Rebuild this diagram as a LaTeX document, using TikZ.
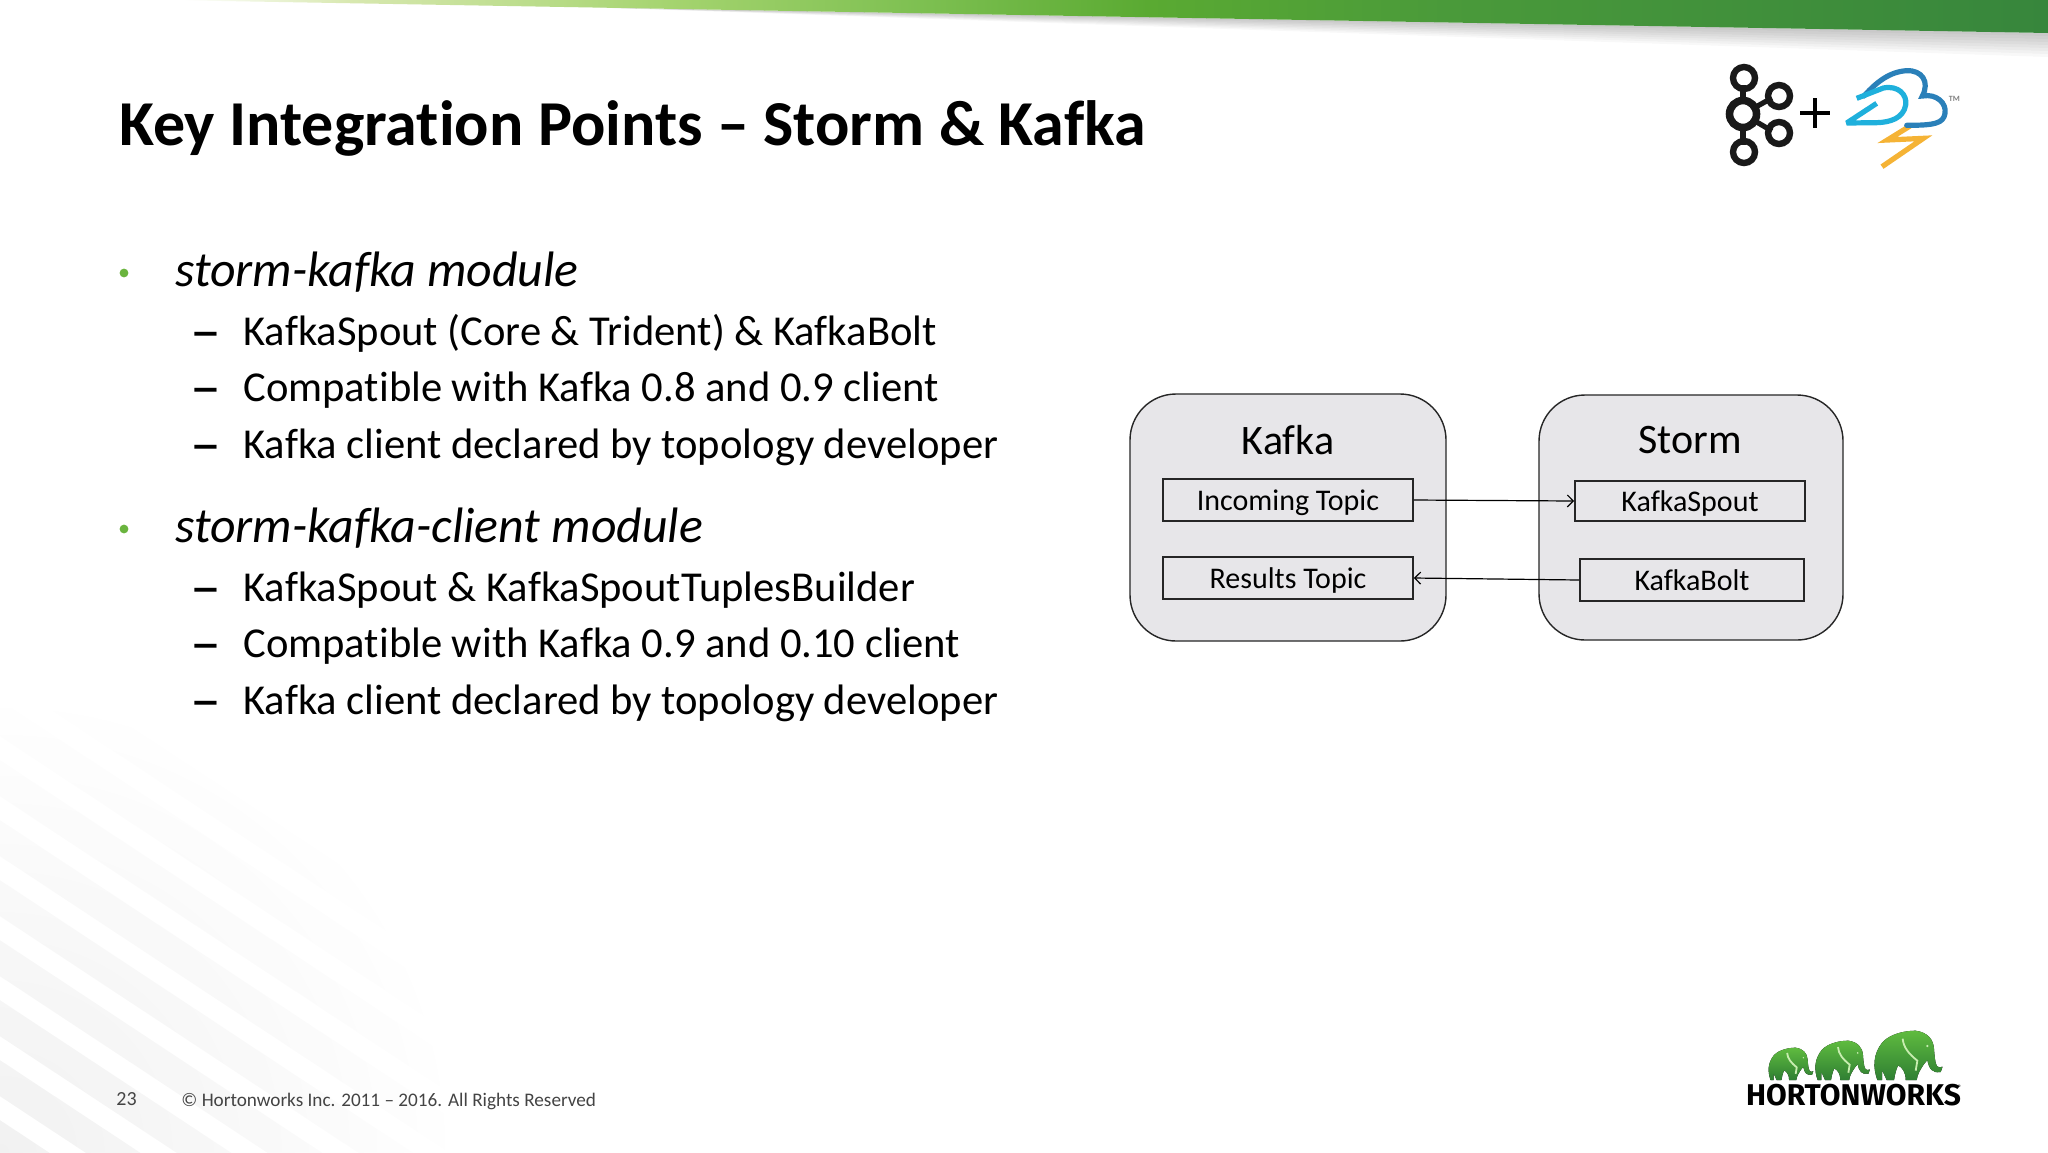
\documentclass[tikz,border=0pt]{standalone}
\usepackage{fontspec}
\setmainfont[Ligatures=NoCommon]{Carlito}
\newfontfamily\logofont{Fira Sans}
\usetikzlibrary{arrows.meta,fadings,shapes.geometric}
\definecolor{boxgray}{HTML}{E7E6E9}
\definecolor{bulletgreen}{HTML}{6AB43E}
\definecolor{footgray}{HTML}{444444}
\definecolor{stormdark}{HTML}{2A80B9}
\definecolor{stormlight}{HTML}{1FB0DC}
\definecolor{stormbolt}{HTML}{F5B335}
\definecolor{elephanttop}{HTML}{5FBB3F}
\definecolor{elephantbot}{HTML}{2F7F33}
\definecolor{elephantline}{HTML}{C8EDB0}
\pgfdeclarehorizontalshading{topbar}{100bp}{
 color(0bp)=(white); color(25.5bp)=(white);
 color(29.9bp)=({rgb,255:red,216;green,232;blue,176});
 color(38.4bp)=({rgb,255:red,165;green,212;blue,111});
 color(45.3bp)=({rgb,255:red,124;green,191;blue,80});
 color(51.1bp)=({rgb,255:red,90;green,170;blue,50});
 color(59bp)=({rgb,255:red,74;green,154;blue,58});
 color(75bp)=({rgb,255:red,55;green,134;blue,60});
 color(100bp)=({rgb,255:red,55;green,134;blue,60})}
\tikzfading[name=cornerfade,inner color=transparent!87,outer color=transparent!100]
\tikzset{
 x=0.5pt,y=-0.5pt,
 titletext/.style={anchor=base west,inner sep=0pt,font=\fontsize{32}{37}\selectfont\bfseries,text=black},
 headtext/.style={anchor=base west,inner sep=0pt,font=\fontsize{24.9}{29}\selectfont\itshape,text=black},
 subtext/.style={anchor=base west,inner sep=0pt,font=\fontsize{21.3}{25}\selectfont,text=black},
 dashtext/.style={anchor=base,inner sep=0pt,font=\fontsize{31}{33}\selectfont,text=black},
 foottext/.style={anchor=base west,inner sep=0pt,font=\fontsize{9.6}{11}\selectfont,text=footgray},
 bulletdot/.style={circle,fill=bulletgreen,inner sep=0pt,minimum size=4.4pt},
 groupbox/.style={draw=black!85,line width=0.7pt,fill=boxgray,rounded corners=23pt},
 groupname/.style={anchor=center,inner sep=0pt,font=\fontsize{21}{25}\selectfont},
 topicbox/.style={draw=black!85,line width=0.85pt,inner sep=0pt,font=\fontsize{15}{18}\selectfont,anchor=center,text height=13pt,text depth=2.5pt},
 flow/.style={draw=black,line width=0.6pt,-{Straight Barb[length=3pt,width=6pt]}},
 ring/.style={draw=black!90,line width=3.2pt},
 spoke/.style={draw=black!90,line width=2.6pt},
 elephantpic/.pic={
  \fill[top color=elephanttop,bottom color=elephantbot]
   (10,148) .. controls (-4,110) and (-3,70) .. (25,35)
   .. controls (50,8) and (95,0) .. (125,0)
   .. controls (160,5) and (178,25) .. (180,55)
   .. controls (182,85) and (185,112) .. (196,110)
   -- (206,108) -- (200,124)
   .. controls (175,128) and (165,115) .. (160,88)
   -- (150,100) .. controls (140,115) and (130,130) .. (128,148)
   -- (95,148) .. controls (95,125) and (85,110) .. (72,104)
   .. controls (65,120) and (62,135) .. (60,148)
   -- (38,148) -- (24,118) -- (24,148) -- cycle;
  \draw[elephantline,line width=0.9pt]
   (86,24) .. controls (88,50) and (105,70) .. (130,90) -- (125,120);
  \fill[elephantline] (160,46) circle (3.5);
 }
}
\begin{document}
\begin{tikzpicture}
\useasboundingbox (0,0) rectangle (2048,1152);
\fill[white] (0,0) rectangle (2048,1152);

% faint fan of stripes in the lower left corner
\foreach \s in {640,700,760,820,880,940,1000,1060,1120,1180,1240}{
 \fill[black!40,path fading=cornerfade,fit fading=false,
       fading transform={shift={(0,1152)},scale=9}]
   (0,\s) -- (900,\s+594) -- (900,\s+630) -- (0,\s+36) -- cycle;
}

% top band with its shadow
\foreach \i in {1,...,8}{
 \fill[black,opacity=0.028] (600,7.6) -- (2048,33) -- (2048,33+3*\i) -- cycle;
}
\shade[shading=topbar] (165,0) -- (2048,0) -- (2048,33) -- cycle;

% heading
\node[titletext] (title) at (119,145) {Key Integration Points – Storm \& Kafka};

% bullet list
\node[bulletdot] (b1) at (124,273) {};
\node[headtext] (h1) at (175,286) {storm-kafka module};
\node[dashtext] (d11) at (206,351) {–};
\node[subtext] (s11) at (243,345) {KafkaSpout (Core \& Trident) \& KafkaBolt};
\node[dashtext] (d12) at (206,407) {–};
\node[subtext] (s12) at (243,401) {Compatible with Kafka 0.8 and 0.9 client};
\node[dashtext] (d13) at (206,464) {–};
\node[subtext] (s13) at (243,458) {Kafka client declared by topology developer};
\node[bulletdot] (b2) at (124,529) {};
\node[headtext] (h2) at (175,542) {storm-kafka-client module};
\node[dashtext] (d21) at (206,607) {–};
\node[subtext] (s21) at (243,601) {KafkaSpout \& KafkaSpoutTuplesBuilder};
\node[dashtext] (d22) at (206,663) {–};
\node[subtext] (s22) at (243,657) {Compatible with Kafka 0.9 and 0.10 client};
\node[dashtext] (d23) at (206,720) {–};
\node[subtext] (s23) at (243,714) {Kafka client declared by topology developer};

% diagram
\draw[groupbox] (1130,394) rectangle (1446,641);
\draw[groupbox] (1539,395) rectangle (1843,640);
\node[groupname] (kafka) at (1288,440) {Kafka};
\node[groupname] (storm) at (1690,440) {Storm};
\node[topicbox,minimum width=125pt,minimum height=21pt] (incoming) at (1288,500) {Incoming Topic};
\node[topicbox,minimum width=125pt,minimum height=21pt] (results) at (1288,578) {Results Topic};
\node[topicbox,minimum width=115pt,minimum height=20pt] (spout) at (1690,501) {KafkaSpout};
\node[topicbox,minimum width=112pt,minimum height=21pt] (bolt) at (1692,580) {KafkaBolt};
\draw[flow] (incoming.east) -- (spout.west);
\draw[flow] (bolt.west) -- (results.east);

% Kafka + Storm logo
\draw[spoke] (1743,85) -- (1743,145);
\draw[spoke] (1743,114) -- (1772,98);
\draw[spoke] (1743,114) -- (1772,131);
\draw[ring,fill=white,line width=3.8pt] (1743,114) circle (13.5);
\draw[ring] (1744,78) circle (11);
\draw[ring] (1744,152) circle (11);
\draw[ring] (1779,96) circle (11);
\draw[ring] (1779,133) circle (11);
\draw[black,line width=2.3pt] (1800,113) -- (1830,113) (1815,98) -- (1815,128);
\begin{scope}[shift={(1680,40)},x=0.16667pt,y=-0.16667pt]
 \draw[stormbolt,line width=2.6pt,line join=miter]
   (690,258) -- (622,300) -- (730,295) -- (606,380);
 \draw[stormdark,line width=2.6pt,line cap=round]
   (552,168) .. controls (590,125) and (630,95) .. (680,92)
   .. controls (725,90) and (750,125) .. (727,168)
   .. controls (770,160) and (800,190) .. (795,220)
   .. controls (790,250) and (765,256) .. (680,256);
 \draw[stormlight,line width=2.6pt,line join=bevel]
   (530,175) -- (610,144) .. controls (655,135) and (682,165) .. (677,195)
   .. controls (670,235) and (630,247) .. (590,248)
   -- (500,249) -- (590,190);
 \node[inner sep=0pt,font=\fontsize{4}{5}\selectfont\bfseries,text=black!50] (tm) at (823,177) {TM};
\end{scope}

% Hortonworks logo
\begin{scope}[shift={(1720,1010)},x=0.16667pt,y=-0.16667pt]
 \pic[scale=0.655] at (145,113) {elephantpic};
 \pic[scale=0.8] at (285,92) {elephantpic};
 \pic at (462,62) {elephantpic};
 \node[anchor=base west,inner sep=0pt,font=\logofont\fontsize{15}{18}\selectfont\bfseries] (hw) at (77,287) {HORTONWORKS};
 \node[anchor=base west,inner sep=0pt,font=\fontsize{4}{5}\selectfont] (reg) at (712,240) {®};
\end{scope}

% footer
\node[foottext,font=\fontsize{10}{12}\selectfont] (page) at (116,1105) {23};
\node[foottext] (copy) at (181,1106) {© Hortonworks Inc. 2011 – 2016. All Rights Reserved};
\end{tikzpicture}
\end{document}
